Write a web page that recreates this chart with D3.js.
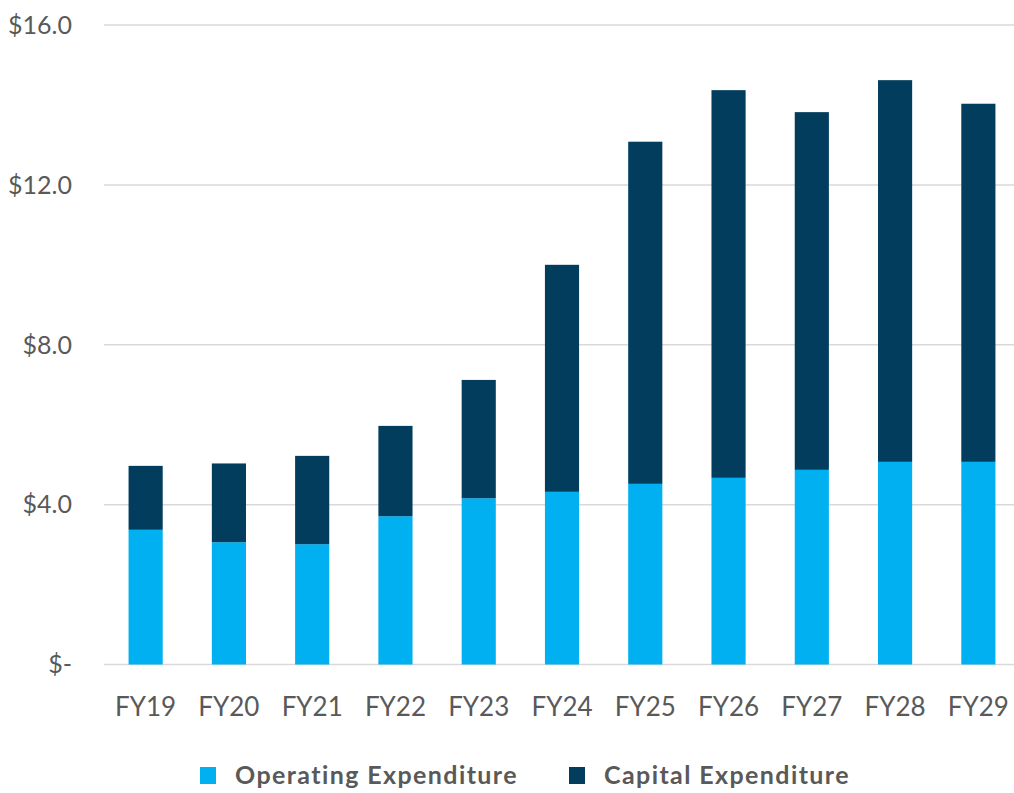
<!DOCTYPE html>
<html>
<head>
<meta charset="utf-8">
<script src="https://cdn.jsdelivr.net/npm/d3@7"></script>
<style>
  html, body { margin: 0; padding: 0; background: #fff; }
  svg { display: block; }
</style>
</head>
<body>
<svg id="chart" width="1014" height="793"></svg>
<script>
// fiscal years on the x axis
var years = ['FY19', 'FY20', 'FY21', 'FY22', 'FY23', 'FY24', 'FY25', 'FY26', 'FY27', 'FY28', 'FY29'];

// $ values
var opex  = [3.37, 3.06, 3.01, 3.71, 4.16, 4.32, 4.52, 4.67, 4.87, 5.07, 5.07];
var capex = [1.60, 1.97, 2.21, 2.26, 2.96, 5.68, 8.56, 9.70, 8.95, 9.55, 8.96];

var yTicks = [0, 4, 8, 12, 16];
var yTickLabels = ['$-', '$4.0', '$8.0', '$12.0', '$16.0'];

var seriesNames = ['Operating Expenditure', 'Capital Expenditure'];
var colors = ['#00B0F0', '#023D5E'];

var svg = d3.select('#chart');

var x = d3.scaleBand().domain(years).range([104, 1020]).paddingInner(0.59).paddingOuter(0.295);
var y = d3.scaleLinear().domain([0, 16]).range([664.5, 25]);

// build the stack from the two arrays
var rows = years.map(function (yr, i) {
    return { year: yr, op: opex[i], cap: capex[i] };
});
var stacked = d3.stack().keys(['op', 'cap'])(rows);

// gridlines
svg.append('g')
    .selectAll('line')
    .data(yTicks)
    .enter().append('line')
    .attr('x1', 104)
    .attr('x2', 1020)
    .attr('y1', function (d) { return y(d); })
    .attr('y2', function (d) { return y(d); })
    .style('stroke', '#D9D9D9')
    .style('stroke-width', 1.5);

// y labels
svg.append('g')
    .selectAll('text')
    .data(yTicks)
    .enter().append('text')
    .attr('x', 72)
    .attr('y', function (d) { return y(d); })
    .attr('dy', '0.35em')
    .attr('text-anchor', 'end')
    .style('font-family', 'Lato, "Open Sans", sans-serif')
    .style('font-size', '25px')
    .style('fill', '#595959')
    .text(function (d, i) { return yTickLabels[i]; });

// bars
svg.append('g')
    .selectAll('g')
    .data(stacked)
    .enter().append('g')
    .style('fill', function (d, i) { return colors[i]; })
    .selectAll('rect')
    .data(function (d) { return d; })
    .enter().append('rect')
    .attr('x', function (d) { return x(d.data.year); })
    .attr('width', x.bandwidth())
    .attr('y', function (d) { return y(d[1]); })
    .attr('height', function (d) { return y(d[0]) - y(d[1]); });

// x labels
svg.append('g')
    .selectAll('text')
    .data(years)
    .enter().append('text')
    .attr('x', function (d) { return x(d) + x.bandwidth() / 2; })
    .attr('y', 716)
    .attr('text-anchor', 'middle')
    .style('font-family', 'Lato, "Open Sans", sans-serif')
    .style('font-size', '26px')
    .style('fill', '#595959')
    .text(function (d) { return d; });

// legend
var legendX = [200, 569];
var legend = svg.append('g')
    .selectAll('g')
    .data(seriesNames)
    .enter().append('g')
    .attr('transform', function (d, i) { return 'translate(' + legendX[i] + ',0)'; });

legend.append('rect')
    .attr('x', 0)
    .attr('y', 767)
    .attr('width', 16)
    .attr('height', 17)
    .style('fill', function (d, i) { return colors[i]; });

legend.append('text')
    .attr('x', 35)
    .attr('y', 784)
    .style('font-family', 'Lato, "Open Sans", sans-serif')
    .style('font-size', '25px')
    .style('font-weight', 'bold')
    .style('letter-spacing', '1.4px')
    .style('fill', '#595959')
    .text(function (d) { return d; });
</script>
</body>
</html>
